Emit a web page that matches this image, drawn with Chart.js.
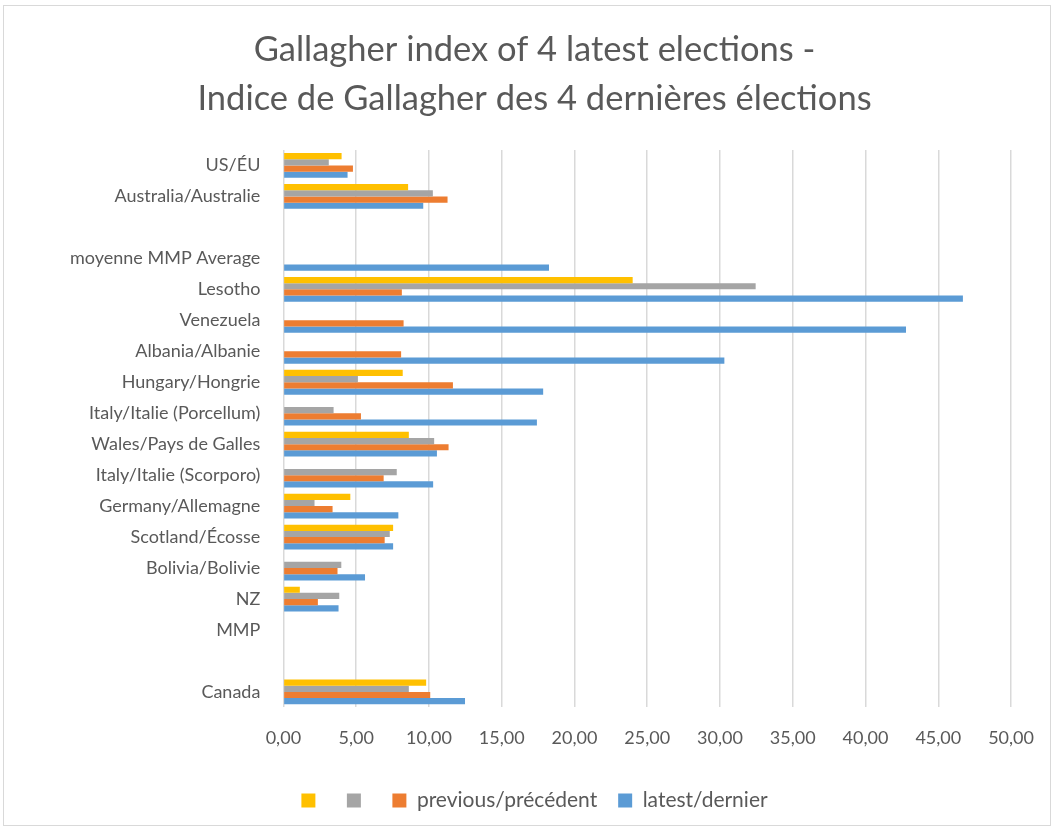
<!DOCTYPE html>
<html>
<head>
<meta charset="utf-8">
<script src="https://cdn.jsdelivr.net/npm/chart.js@4.4.0/dist/chart.umd.min.js"></script>
<style>
  html, body { margin: 0; padding: 0; background: #fff; }
  #wrap { position: relative; width: 1054px; height: 829px; }
</style>
</head>
<body>
<div id="wrap"><canvas id="chart1"></canvas></div>
<script>
// categories, top to bottom as in the picture
const categories = ['US/ÉU', 'Australia/Australie', '', 'moyenne MMP Average', 'Lesotho', 'Venezuela',
  'Albania/Albanie', 'Hungary/Hongrie', 'Italy/Italie (Porcellum)', 'Wales/Pays de Galles',
  'Italy/Italie (Scorporo)', 'Germany/Allemagne', 'Scotland/Écosse', 'Bolivia/Bolivie', 'NZ', 'MMP', ' ', 'Canada'];

// oldest of the 4 elections (yellow) and the one before previous (gray) have no legend name
const fourth = [4.0, 8.57, null, null, 24.0, null, null, 8.2, null, 8.62, null, 4.6, 7.54, null, 1.13, null, null, 9.81];
const third = [3.12, 10.27, null, null, 32.45, null, null, 5.12, 3.45, 10.36, 7.79, 2.14, 7.31, 3.98, 3.84, null, null, 8.62];
const previous = [4.78, 11.28, null, null, 8.14, 8.26, 8.09, 11.65, 5.33, 11.35, 6.89, 3.38, 6.96, 3.72, 2.37, null, null, 10.09];
const latest = [4.41, 9.61, null, 18.25, 46.69, 42.78, 30.3, 17.85, 17.42, 10.55, 10.29, 7.9, 7.54, 5.61, 3.79, null, null, 12.48];

const textColor = '#595959';
const font = "Lato, 'Open Sans', sans-serif";

// white background + light frame round the whole chart
const frame = {
  id: 'frame',
  beforeDraw(chart) {
    const ctx = chart.ctx;
    ctx.save();
    ctx.fillStyle = '#fff';
    ctx.fillRect(0, 0, chart.width, chart.height);
    ctx.strokeStyle = '#d9d9d9';
    ctx.lineWidth = 1;
    ctx.strokeRect(3.5, 5.5, chart.width - 7, chart.height - 9);
    ctx.restore();
  }
};

new Chart('chart1', {
  type: 'bar',
  data: {
    labels: categories,
    datasets: [
      { label: '', data: fourth, backgroundColor: '#FFC000' },
      { label: '', data: third, backgroundColor: '#A5A5A5' },
      { label: 'previous/précédent', data: previous, backgroundColor: '#ED7D31' },
      { label: 'latest/dernier', data: latest, backgroundColor: '#5B9BD5' }
    ]
  },
  options: {
    indexAxis: 'y',
    responsive: true,
    maintainAspectRatio: false,
    animation: false,
    datasets: {
      bar: { categoryPercentage: 0.8, barPercentage: 1.0, borderWidth: 0 }
    },
    layout: { padding: { left: 47, right: 32, top: 0, bottom: 8 } },
    scales: {
      x: {
        min: 0,
        max: 50,
        ticks: {
          stepSize: 5,
          color: textColor,
          font: { family: font, size: 18 },
          padding: 20,
          callback: v => v.toFixed(2).replace('.', ',')
        },
        grid: { color: '#d9d9d9', lineWidth: 1.5, drawTicks: false },
        border: { display: false }
      },
      y: {
        ticks: {
          color: textColor,
          font: { family: font, size: 18 },
          padding: 23,
          autoSkip: false
        },
        grid: { display: false, drawTicks: false },
        border: { display: false }
      }
    },
    plugins: {
      title: {
        display: true,
        text: ['Gallagher index of 4 latest elections -', 'Indice de Gallagher des 4 dernières élections'],
        color: textColor,
        font: { family: font, size: 34.5, weight: 'normal', lineHeight: 1.42 },
        padding: { top: 25, bottom: 27 }
      },
      legend: {
        position: 'bottom',
        labels: {
          color: textColor,
          font: { family: font, size: 21 },
          boxWidth: 14,
          boxHeight: 14,
          padding: 21
        }
      },
      tooltip: { enabled: false }
    }
  },
  plugins: [frame]
});
</script>
</body>
</html>
